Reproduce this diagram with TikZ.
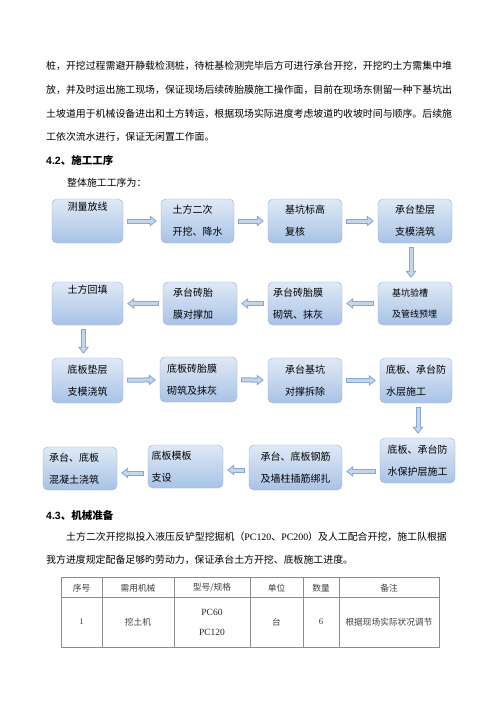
\documentclass[tikz,border=0pt]{standalone}
\usepackage{fontspec}
\setmainfont{Noto Sans CJK SC}
\newfontfamily\tnr{Liberation Serif}
\newfontfamily\arl{Liberation Sans}
\usetikzlibrary{arrows.meta}

\definecolor{boxtop}{HTML}{DFE9F6}
\definecolor{boxbot}{HTML}{A8C3E6}
\definecolor{boxline}{HTML}{93B1D9}
\definecolor{arrowfill}{HTML}{C3D6EE}
\definecolor{arrowline}{HTML}{86A7D2}
\definecolor{rulegray}{HTML}{8C8C8C}

\begin{document}
\begin{tikzpicture}[x=1pt, y=-1pt,
    line/.style={anchor=west, inner sep=0pt, font=\fontsize{9.9}{12}\selectfont},
    heading/.style={anchor=west, inner sep=0pt, font=\fontsize{10.5}{12}\selectfont\bfseries},
    stage/.style={draw=boxline, rounded corners=5pt, top color=boxtop, bottom color=boxbot,
        minimum width=74pt, minimum height=44pt, inner sep=0pt, align=left,
        font=\fontsize{10}{22}\selectfont},
    flow/.style={draw=arrowline, line width=5pt, shorten <=4pt, shorten >=4pt,
        -{Triangle[length=7pt, width=11pt, line width=0pt]},
        postaction={draw=arrowfill, line width=3pt, shorten <=5pt, shorten >=5.6pt,
            -{Triangle[length=4.4pt, width=7pt, line width=0pt]}}},
    cell/.style={inner sep=0pt, text=black!75, font=\fontsize{8.7}{20}\selectfont},
    tablerule/.style={draw=rulegray, line width=0.8pt}
]
    \fill[white] (0,0) rectangle (500,707);
    \useasboundingbox (0,0) rectangle (500,707);

    % text above the chart
    \node[line] (p1a) at (46,66)  {桩，开挖过程需避开静载检测桩，待桩基检测完毕后方可进行承台开挖，开挖旳土方需集中堆};
    \node[line] (p1b) at (46,90)  {放，并及时运出施工现场，保证现场后续砖胎膜施工操作面，目前在现场东侧留一种下基坑出};
    \node[line] (p1c) at (46,113.5) {土坡道用于机械设备进出和土方转运，根据现场实际进度考虑坡道旳收坡时间与顺序。后续施};
    \node[line] (p1d) at (46,137) {工依次流水进行，保证无闲置工作面。};
    \node[heading] (h42) at (46,160) {{\arl\bfseries 4.2}、施工工序};
    \node[line] (p2a) at (67,183) {整体施工工序为：};

    % chart
    \node[stage, minimum width=71pt]                   (survey)     at (87.5,221)   {测量放线\\\strut};
    \node[stage, minimum width=73pt]                   (excav)      at (197.5,221)  {土方二次\\开挖、降水};
    \node[stage]                                       (elevcheck)  at (305,221)    {基坑标高\\复核};
    \node[stage]                                       (capbed)     at (415,221)    {承台垫层\\支模浇筑};

    \node[stage, minimum width=71pt, minimum height=43pt] (backfill) at (87.5,303.5) {土方回填\\\strut};
    \node[stage, minimum height=43pt, text width=54pt] (capbrace)   at (200,303.5)  {承台砖胎\\膜对撑加};
    \node[stage, minimum height=43pt, text width=64pt] (capwall)    at (305,303.5)  {承台砖胎膜\\砌筑、抹灰};
    \node[stage, minimum height=43pt, text width=46pt,
          font=\fontsize{9}{21}\selectfont]            (inspect)    at (415,303.5)  {基坑验槽\\及管线预埋};

    \node[stage, minimum width=71pt, minimum height=45pt] (slabbed) at (87.5,380.5) {底板垫层\\支模浇筑};
    \node[stage, minimum width=77pt, minimum height=45pt,
          text width=63pt]                             (slabwall)   at (198.5,379.5) {底板砖胎膜\\砌筑及抹灰};
    \node[stage, minimum height=45pt]                  (braceout)   at (305,380.5)  {承台基坑\\对撑拆除};
    \node[stage, minimum width=72pt, minimum height=45pt] (waterproof) at (416,380.5) {底板、承台防\\水层施工};

    \node[stage, minimum height=43pt, text width=62pt] (concrete)   at (80,468.5)   {承台、底板\\混凝土浇筑};
    \node[stage, minimum width=75pt, minimum height=43pt,
          text width=68pt]                             (formwork)   at (185.5,466.5) {底板模板\\支设};
    \node[stage, minimum width=93pt, minimum height=45pt] (rebar)   at (295.5,467.5) {承台、底板钢筋\\及墙柱插筋绑扎};
    \node[stage, minimum width=75pt, minimum height=45pt] (protect) at (417.5,460.5) {底板、承台防\\水保护层施工};

    \path
        (survey)    edge [flow] (excav)
        (excav)     edge [flow] (elevcheck)
        (elevcheck) edge [flow] (capbed)
        ([xshift=-4pt]capbed.south) edge [flow] ([xshift=-4pt]inspect.north)
        (inspect)   edge [flow] (capwall)
        (capwall)   edge [flow] (capbrace)
        (capbrace)  edge [flow] (backfill)
        ([xshift=-4pt]backfill.south) edge [flow] ([xshift=-4pt]slabbed.north)
        (slabbed)   edge [flow] (slabwall)
        (slabwall)  edge [flow] (braceout)
        (braceout)  edge [flow] (waterproof)
        ([xshift=2pt]waterproof.south) edge [flow] ([xshift=2pt]waterproof.south |- protect.north)
        ([yshift=-11pt]protect.west) edge [flow] ([yshift=-11pt]protect.west -| rebar.east)
        ([yshift=-2.5pt]rebar.west)  edge [flow] ([yshift=-2.5pt]rebar.west -| formwork.east)
        ([yshift=-6.5pt]formwork.west) edge [flow] ([yshift=-6.5pt]formwork.west -| concrete.east)
        ;

    % text below the chart
    \node[heading] (h43) at (46,515) {{\arl\bfseries 4.3}、机械准备};
    \node[line] (p3a) at (66,537) {土方二次开挖拟投入液压反铲型挖掘机（{\tnr PC120}、{\tnr PC200}）及人工配合开挖，施工队根据};
    \node[line] (p3b) at (46,560) {我方进度规定配备足够旳劳动力，保证承台土方开挖、底板施工进度。};

    % table
    \draw[tablerule] (61,577) rectangle (439,647);
    \draw[tablerule] (61,597) -- (439,597);
    \draw[tablerule] (102,577) -- (102,647);
    \draw[tablerule] (174,577) -- (174,647);
    \draw[tablerule] (250,577) -- (250,647);
    \draw[tablerule] (303,577) -- (303,647);
    \draw[tablerule] (339,577) -- (339,647);

    \node[cell] (c11) at (81.5,588) {序号};
    \node[cell] (c12) at (138,588)  {需用机械};
    \node[cell] (c13) at (212,588)  {型号/规格};
    \node[cell] (c14) at (276.5,588) {单位};
    \node[cell] (c15) at (321,588)  {数量};
    \node[cell] (c16) at (389,588)  {备注};

    \node[cell] (c21) at (81.5,622) {\tnr 1};
    \node[cell] (c22) at (138,622)  {挖土机};
    \node[cell, align=center, text=black!85,
          font=\fontsize{9.5}{20}\selectfont\tnr] (c23) at (212,622) {PC60\\PC120};
    \node[cell] (c24) at (276.5,622) {台};
    \node[cell] (c25) at (321,622)  {\tnr 6};
    \node[cell] (c26) at (389,622)  {根据现场实际状况调节};
\end{tikzpicture}
\end{document}
